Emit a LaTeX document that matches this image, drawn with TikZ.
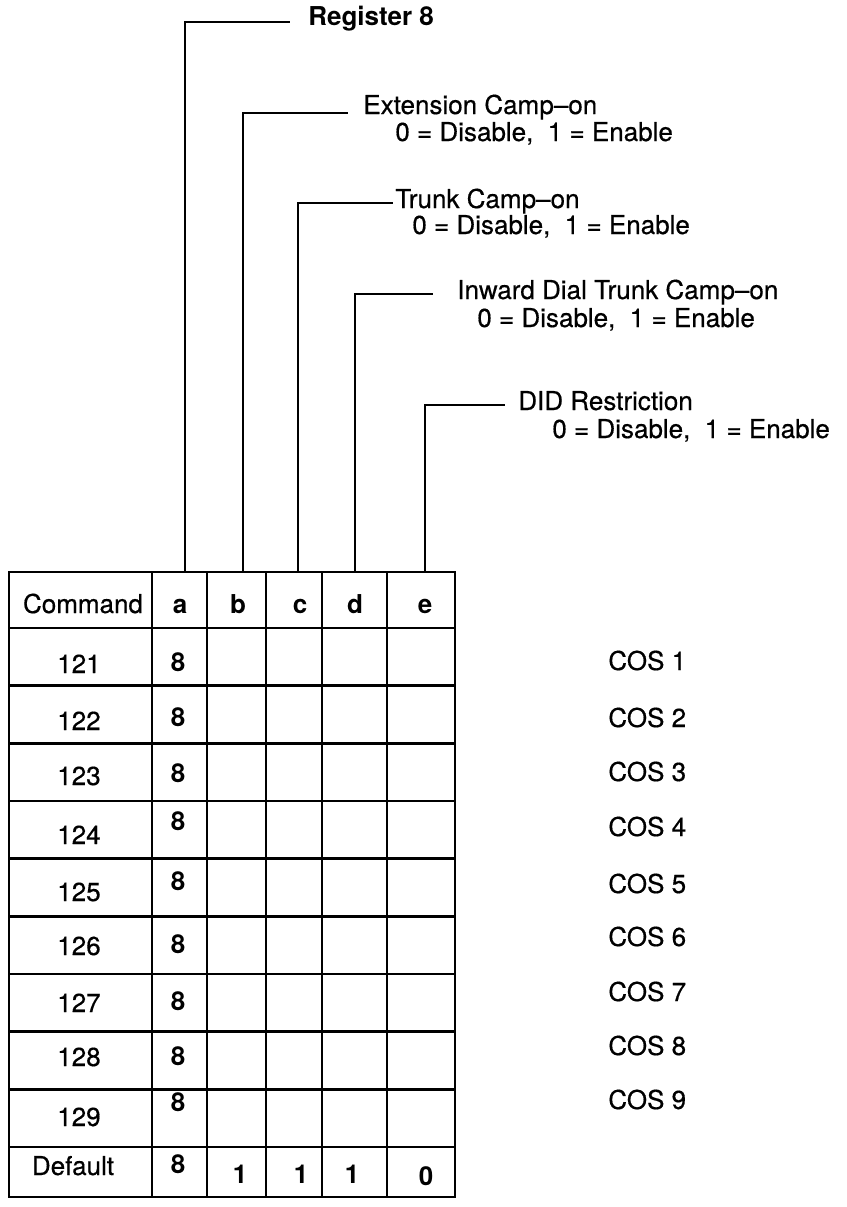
\documentclass[tikz,border=0pt]{standalone}
\usepackage{fontspec}
\setmainfont{TeX Gyre Heros}
\newfontfamily\medfont{TeX Gyre Heros}[FakeBold=0.5]
\usepackage{xcolor}
\definecolor{ink}{HTML}{000000}
\definecolor{paper}{HTML}{FFFFFF}
\tikzset{
  grid/.style={draw=ink, line width=1.6pt},
  leader/.style={draw=ink, line width=1.5pt},
  lab/.style={text=ink, inner sep=0pt, anchor=base west, font=\fontsize{14.8}{17}\selectfont\medfont},
  cell/.style={text=ink, inner sep=0pt, anchor=base, font=\fontsize{14.8}{17}\selectfont\medfont},
  bcell/.style={cell, font=\fontsize{14.8}{17}\selectfont\bfseries}
}

\begin{document}
\begin{tikzpicture}[x=0.02cm, y=-0.02cm]
  \fill[paper] (0,0) rectangle (846,1207);
  \useasboundingbox (0,0) rectangle (846,1207);

  \draw[grid] (9,572) rectangle (455,1197);
  \foreach \x in {152,207,266,322,387} \draw[grid] (\x,572) -- (\x,1197);
  \foreach \i in {0,...,9} \draw[grid] (9,{628+57.67*\i}) -- (455,{628+57.67*\i});

  \node[cell] (hcmd) at (83,613) {Command};
  \foreach \c/\x in {a/180,b/238,c/300,d/355,e/425}
    \node[bcell] (h\c) at (\x,613) {\c};

  \foreach \n/\yn/\ya [count=\i] in {121/673/671, 122/730/726, 123/785/782,
      124/844/830, 125/901/890, 126/955/953, 127/1012/1010, 128/1066/1065, 129/1126/1111}
  {
    \node[cell] (cmd\i) at (79,\yn) {\n};
    \node[bcell] (a\i) at (178,\ya) {8};
  }
  \node[cell] (cmd10) at (73,1175) {Default};
  \node[bcell] (a10) at (178,1173) {8};
  \node[bcell] (b10) at (240,1183) {1};
  \node[bcell] (c10) at (301,1183) {1};
  \node[bcell] (d10) at (352,1183) {1};
  \node[bcell] (e10) at (426,1185) {0};

  \foreach \k/\y in {1/670, 2/727, 3/781, 4/836, 5/893, 6/946, 7/1001, 8/1055, 9/1109}
    \node[lab] (cos\k) at (608,\y) {COS \k};

  \foreach \c/\x/\y/\e in {a/185/22/290, b/243/113/348, c/298/203/393, d/355/294/433, e/425/405/505}
  {
    \coordinate (t\c) at (\x,572);
    \coordinate (r\c) at (\e,\y);
    \draw[leader] (t\c) |- (r\c);
  }

  \node[lab, font=\fontsize{14.8}{17}\selectfont\bfseries] (reg) at (308,25) {Register 8};
  \node[lab] (ext) at (363,114) {Extension Camp–on};
  \node[lab] (extv) at (395,141) {0 = Disable,\ \ 1 = Enable};
  \node[lab] (trk) at (395,208) {Trunk Camp–on};
  \node[lab] (trkv) at (412,234) {0 = Disable,\ \ 1 = Enable};
  \node[lab] (idt) at (457,299) {Inward Dial Trunk Camp–on};
  \node[lab] (idtv) at (477,327) {0 = Disable,\ \ 1 = Enable};
  \node[lab] (did) at (518,410) {DID Restriction};
  \node[lab] (didv) at (552,438) {0 = Disable,\ \ 1 = Enable};
\end{tikzpicture}
\end{document}
